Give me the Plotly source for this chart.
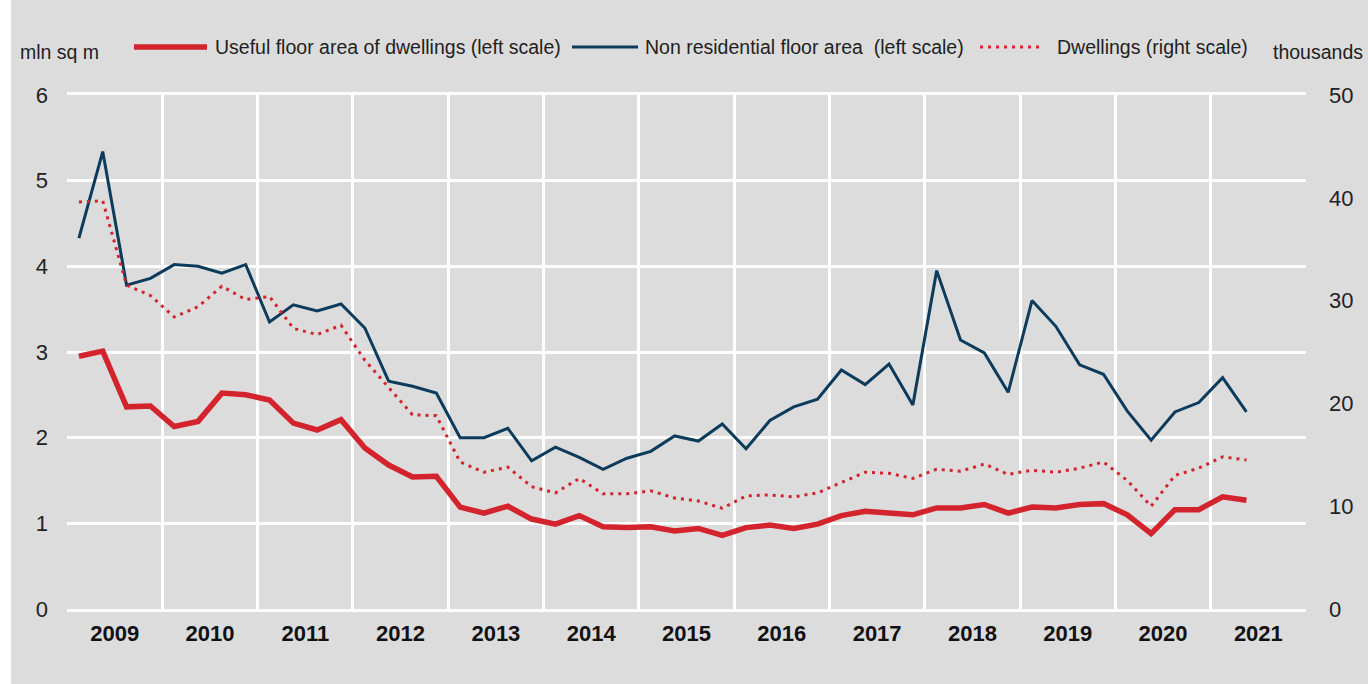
import plotly.graph_objects as go

# ---------------- data ----------------
years = list(range(2009, 2022))
periods = [f"{y}Q{q}" for y in range(2009, 2022) for q in range(1, 5)][:50]  # 2009Q1 .. 2021Q2

useful_floor = [2.95, 3.01, 2.36, 2.37, 2.13, 2.19, 2.52, 2.50, 2.44, 2.17, 2.09, 2.21,
                1.88, 1.68, 1.54, 1.55, 1.19, 1.12, 1.20, 1.05, 0.99, 1.09, 0.96, 0.95,
                0.96, 0.91, 0.94, 0.86, 0.95, 0.98, 0.94, 0.99, 1.09, 1.14, 1.12, 1.10,
                1.18, 1.18, 1.22, 1.12, 1.19, 1.18, 1.22, 1.23, 1.10, 0.88, 1.16, 1.16,
                1.31, 1.27]

non_residential = [4.33, 5.34, 3.78, 3.86, 4.02, 4.00, 3.92, 4.02, 3.35, 3.55, 3.48, 3.56,
                   3.28, 2.66, 2.60, 2.52, 2.00, 2.00, 2.11, 1.73, 1.89, 1.77, 1.63, 1.76,
                   1.84, 2.02, 1.96, 2.16, 1.87, 2.20, 2.36, 2.45, 2.79, 2.62, 2.86, 2.38,
                   3.95, 3.14, 2.99, 2.53, 3.60, 3.30, 2.85, 2.74, 2.31, 1.97, 2.30, 2.41,
                   2.70, 2.30]

dwellings = [39.6, 39.7, 31.5, 30.5, 28.4, 29.4, 31.4, 30.1, 30.4, 27.3, 26.7, 27.6,
             24.2, 21.5, 18.9, 18.8, 14.3, 13.3, 13.8, 11.9, 11.3, 12.7, 11.2, 11.2,
             11.5, 10.8, 10.5, 9.8, 11.0, 11.1, 10.9, 11.3, 12.3, 13.3, 13.2, 12.7,
             13.6, 13.4, 14.1, 13.1, 13.5, 13.3, 13.7, 14.3, 12.5, 10.0, 13.0, 13.7,
             14.8, 14.5]

series_names = ["Useful floor area of dwellings (left scale)",
                "Non residential floor area\u00a0\u00a0(left scale)",
                "Dwellings (right scale)"]

# x position of each quarter (centre of the quarter within its year band)
xpos = [int(p[:4]) + (int(p[-1]) - 0.5) / 4 for p in periods]

RED = "#d3232d"
BLUE = "#0c3b5c"
BG = "#dcdcdc"
FONT = "Liberation Sans Narrow, Arial Narrow, Liberation Sans, Arial, sans-serif"

fig = go.Figure()
fig.add_trace(go.Scatter(x=xpos, y=non_residential, mode="lines", name=series_names[1],
                         line=dict(color=BLUE, width=3), showlegend=False))
fig.add_trace(go.Scatter(x=xpos, y=dwellings, mode="lines", name=series_names[2], yaxis="y2",
                         line=dict(color=RED, width=3, dash="3px,5px"), showlegend=False))
fig.add_trace(go.Scatter(x=xpos, y=useful_floor, mode="lines", name=series_names[0],
                         line=dict(color=RED, width=5.5), showlegend=False))

W, H = 1368, 684
L, R, T, B = 67, 62, 95, 75
pw, ph = W - L - R, H - T - B


def px(xp):
    return (xp - L) / pw


def py(yp):
    return (H - B - yp) / ph


fig.update_layout(
    width=W, height=H,
    margin=dict(l=L, r=R, t=T, b=B),
    paper_bgcolor=BG, plot_bgcolor=BG,
    font=dict(family=FONT, size=21, color="#222222"),
    xaxis=dict(range=[2009, 2022], tickmode="array",
               tickvals=[y + 0.5 for y in years], ticktext=[str(y) for y in years],
               tickfont=dict(family=FONT, size=22, color="#111111", weight="bold"),
               showgrid=False, zeroline=False, ticks="", ticklabelstandoff=3,
               showline=True, linecolor="white", linewidth=3, mirror=True,
               minor=dict(tickmode="linear", tick0=2009, dtick=1, showgrid=True,
                          gridcolor="white", gridwidth=3)),
    yaxis=dict(range=[0, 6], dtick=1, showgrid=True, gridcolor="white", gridwidth=3,
               zeroline=False, ticks="", ticklabelstandoff=18,
               tickfont=dict(family=FONT, size=22, color="#222222")),
    yaxis2=dict(range=[0, 50], dtick=10, overlaying="y", side="right", showgrid=False,
                zeroline=False, ticks="", ticklabelstandoff=22,
                tickfont=dict(family=FONT, size=22, color="#222222")),
)

# manual legend
leg_y = py(47)
legend_items = [
    (134, 207, 213, dict(color=RED, width=5.5), series_names[0]),
    (572, 638, 643, dict(color=BLUE, width=3), series_names[1]),
    (980, 1044, 1055, dict(color=RED, width=3, dash="3px,5px"), series_names[2]),
]
for x0, x1, xt, ln, txt in legend_items:
    fig.add_shape(type="line", xref="paper", yref="paper", x0=px(x0), x1=px(x1),
                  y0=leg_y, y1=leg_y, line=ln)
    fig.add_annotation(x=px(xt), y=leg_y, xref="paper", yref="paper", text=txt,
                       showarrow=False, xanchor="left", yanchor="middle",
                       font=dict(family=FONT, size=19.5, color="#222222"))

fig.add_annotation(x=px(18), y=py(52), xref="paper", yref="paper", text="mln sq m",
                   showarrow=False, xanchor="left", yanchor="middle",
                   font=dict(family=FONT, size=19.5, color="#222222"))
fig.add_annotation(x=px(1365), y=py(52), xref="paper", yref="paper", text="thousands",
                   showarrow=False, xanchor="right", yanchor="middle",
                   font=dict(family=FONT, size=19.5, color="#222222"))

# white strip on the left edge of the image
fig.add_shape(type="rect", xref="paper", yref="paper", x0=px(0), x1=px(11),
              y0=py(H), y1=py(0), fillcolor="white", line=dict(width=0), layer="below")

fig.write_html("out.html", config={"displayModeBar": False},
               post_script="document.body.style.margin='0';document.body.style.overflow='hidden';")
